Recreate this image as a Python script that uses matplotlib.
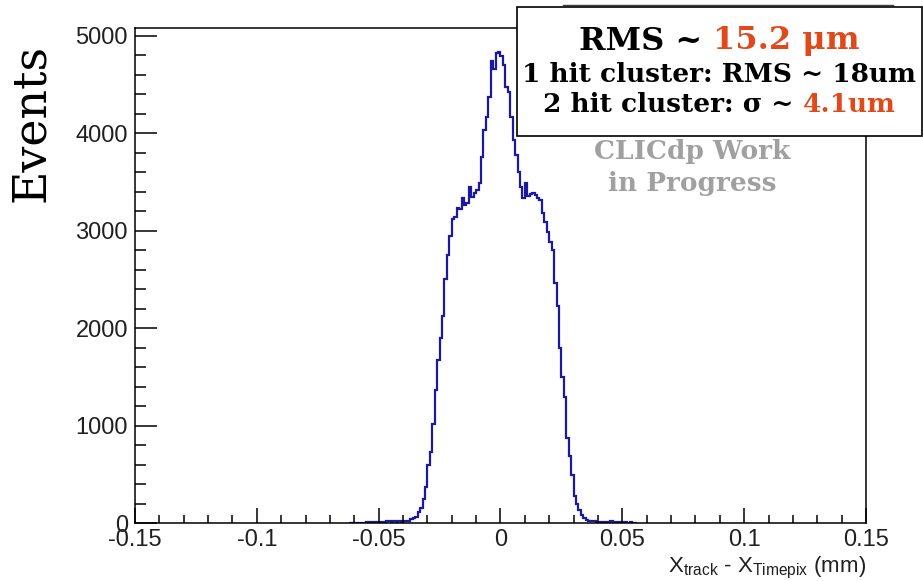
"""
Residual distribution X_track - X_Timepix, styled like the ROOT canvas.
"""

import matplotlib
matplotlib.use('Agg')
import matplotlib.pyplot as plt
import matplotlib.patches as mpatches
from matplotlib.lines import Line2D
from matplotlib.ticker import MultipleLocator
import numpy as np

# histogram: first bin low edge and bin width (mm), counts per bin
bin_start = -0.062
bin_width = 0.001
counts = [
    5, 0, 5, 3, 5, 0, 5, 8, 5, 8,           # -0.062 .. -0.053
    6, 8, 10, 8, 10, 20, 20, 12, 20, 15,    # -0.052 .. -0.043
    22, 15, 22, 25, 25, 45, 50, 60, 110, 150,  # -0.042 .. -0.033
    250, 370, 600, 730, 1020, 1360, 1670, 1900, 2125, 2505,  # -0.032 .. -0.023
    2750, 2945, 3120, 3140, 3235, 3225, 3340, 3265, 3285, 3450,  # -0.022 .. -0.013
    3347, 3388, 3419, 3491, 3758, 4035, 4168, 4374, 4740, 4660,  # -0.012 .. -0.003
    4825, 4836, 4790, 4700, 4476, 4420, 4168, 3932, 3778, 3604,  # -0.002 .. 0.007
    3450, 3337, 3490, 3360, 3378, 3388, 3367, 3337, 3316, 3183,  # 0.008 .. 0.017
    3090, 2987, 2885, 2803, 2464, 2228, 1797, 1500, 1294, 873,   # 0.018 .. 0.027
    690, 493, 277, 195, 133, 82, 51, 30, 22, 20,                 # 0.028 .. 0.037
    18, 15, 12, 15, 12, 10, 12, 20, 10, 8,                       # 0.038 .. 0.047
    10, 8, 6, 8, 5, 6, 4, 5,                                     # 0.048 .. 0.055
]

x_range = (-0.15, 0.15)
y_max = 5080
x_ticks = [-0.15, -0.1, -0.05, 0, 0.05, 0.1, 0.15]
x_tick_labels = ['-0.15', '-0.1', '-0.05', '0', '0.05', '0.1', '0.15']
y_ticks = [0, 1000, 2000, 3000, 4000, 5000]

box_lines = [
    [('RMS ~ ', 'black'), ('15.2 μm', '#e04a1a')],
    [('1 hit cluster: RMS ~ 18um', 'black')],
    [('2 hit cluster: σ ~ ', 'black'), ('4.1um', '#e04a1a')],
]

W, H = 923, 581
fig = plt.figure(figsize=(W / 100, H / 100), dpi=100)
fig.patch.set_facecolor('white')

def px(x, y):
    """pixel coords (from top-left) -> figure fraction"""
    return x / W, 1 - y / H

ax = fig.add_axes([135 / W, 58 / H, (866 - 135) / W, (523 - 28) / H])

edges = bin_start + bin_width * np.arange(len(counts) + 1)
ax.stairs(counts, edges, color='#1a1aa0', linewidth=1.6)

ax.set_xlim(*x_range)
ax.set_ylim(0, y_max)
ax.set_xticks(x_ticks)
ax.set_xticklabels(x_tick_labels)
ax.set_yticks(y_ticks)
ax.xaxis.set_minor_locator(MultipleLocator(0.01))
ax.yaxis.set_minor_locator(MultipleLocator(200))

for lab in ax.get_xticklabels() + ax.get_yticklabels():
    lab.set_fontfamily('Liberation Sans')
    lab.set_fontsize(17)
    lab.set_color('#202020')

ax.tick_params(axis='x', which='major', direction='in', length=11, width=1.1, pad=4)
ax.tick_params(axis='x', which='minor', direction='in', length=5.5, width=1.1)
ax.tick_params(axis='y', which='major', direction='in', length=16, width=1.1, pad=5)
ax.tick_params(axis='y', which='minor', direction='in', length=8, width=1.1)
ax.tick_params(top=False, right=False, which='both')
for sp in ax.spines.values():
    sp.set_linewidth(1.1)

# axis titles
fig.text(*px(31, 123), 'Events', rotation=90, ha='center', va='center',
         family='DejaVu Serif', fontsize=33)
plt.rcParams['mathtext.fontset'] = 'custom'
plt.rcParams['mathtext.rm'] = 'Liberation Sans'
fig.text(*px(866, 572), r'X$_{\mathrm{track}}$ - X$_{\mathrm{Timepix}}$ (mm)',
         ha='right', va='baseline', family='Liberation Sans', fontsize=16,
         color='#202020')

# watermark
fig.text(*px(692, 152), 'CLICdp Work', ha='center', va='center',
         family='DejaVu Serif', fontweight='bold', fontsize=19, color='#a0a0a0')
fig.text(*px(692, 183), 'in Progress', ha='center', va='center',
         family='DejaVu Serif', fontweight='bold', fontsize=19, color='#a0a0a0')

# remnant line of a hidden box above the frame
fig.add_artist(Line2D([563 / W, 893 / W], [1 - 5 / H, 1 - 5 / H],
                      color='#404040', linewidth=1.0))

# result box
box = mpatches.Rectangle(px(517, 136), (922 - 517) / W, (136 - 7) / H,
                         transform=fig.transFigure, facecolor='white',
                         edgecolor='black', linewidth=1.2, zorder=5)
fig.add_artist(box)

fig.canvas.draw()
renderer = fig.canvas.get_renderer()
line_y = [41, 74, 105]
line_size = [23, 19, 19]
for parts, yy, fs in zip(box_lines, line_y, line_size):
    texts = []
    for s, c in parts:
        t = fig.text(0, 1 - yy / H, s, ha='left', va='center', family='DejaVu Serif',
                     fontweight='bold', fontsize=fs, color=c, zorder=6)
        texts.append(t)
    widths = [t.get_window_extent(renderer).width for t in texts]
    x0 = 719.5 - sum(widths) / 2
    for t, w in zip(texts, widths):
        t.set_x(x0 / W)
        x0 += w

fig.savefig('out.png', dpi=100)
